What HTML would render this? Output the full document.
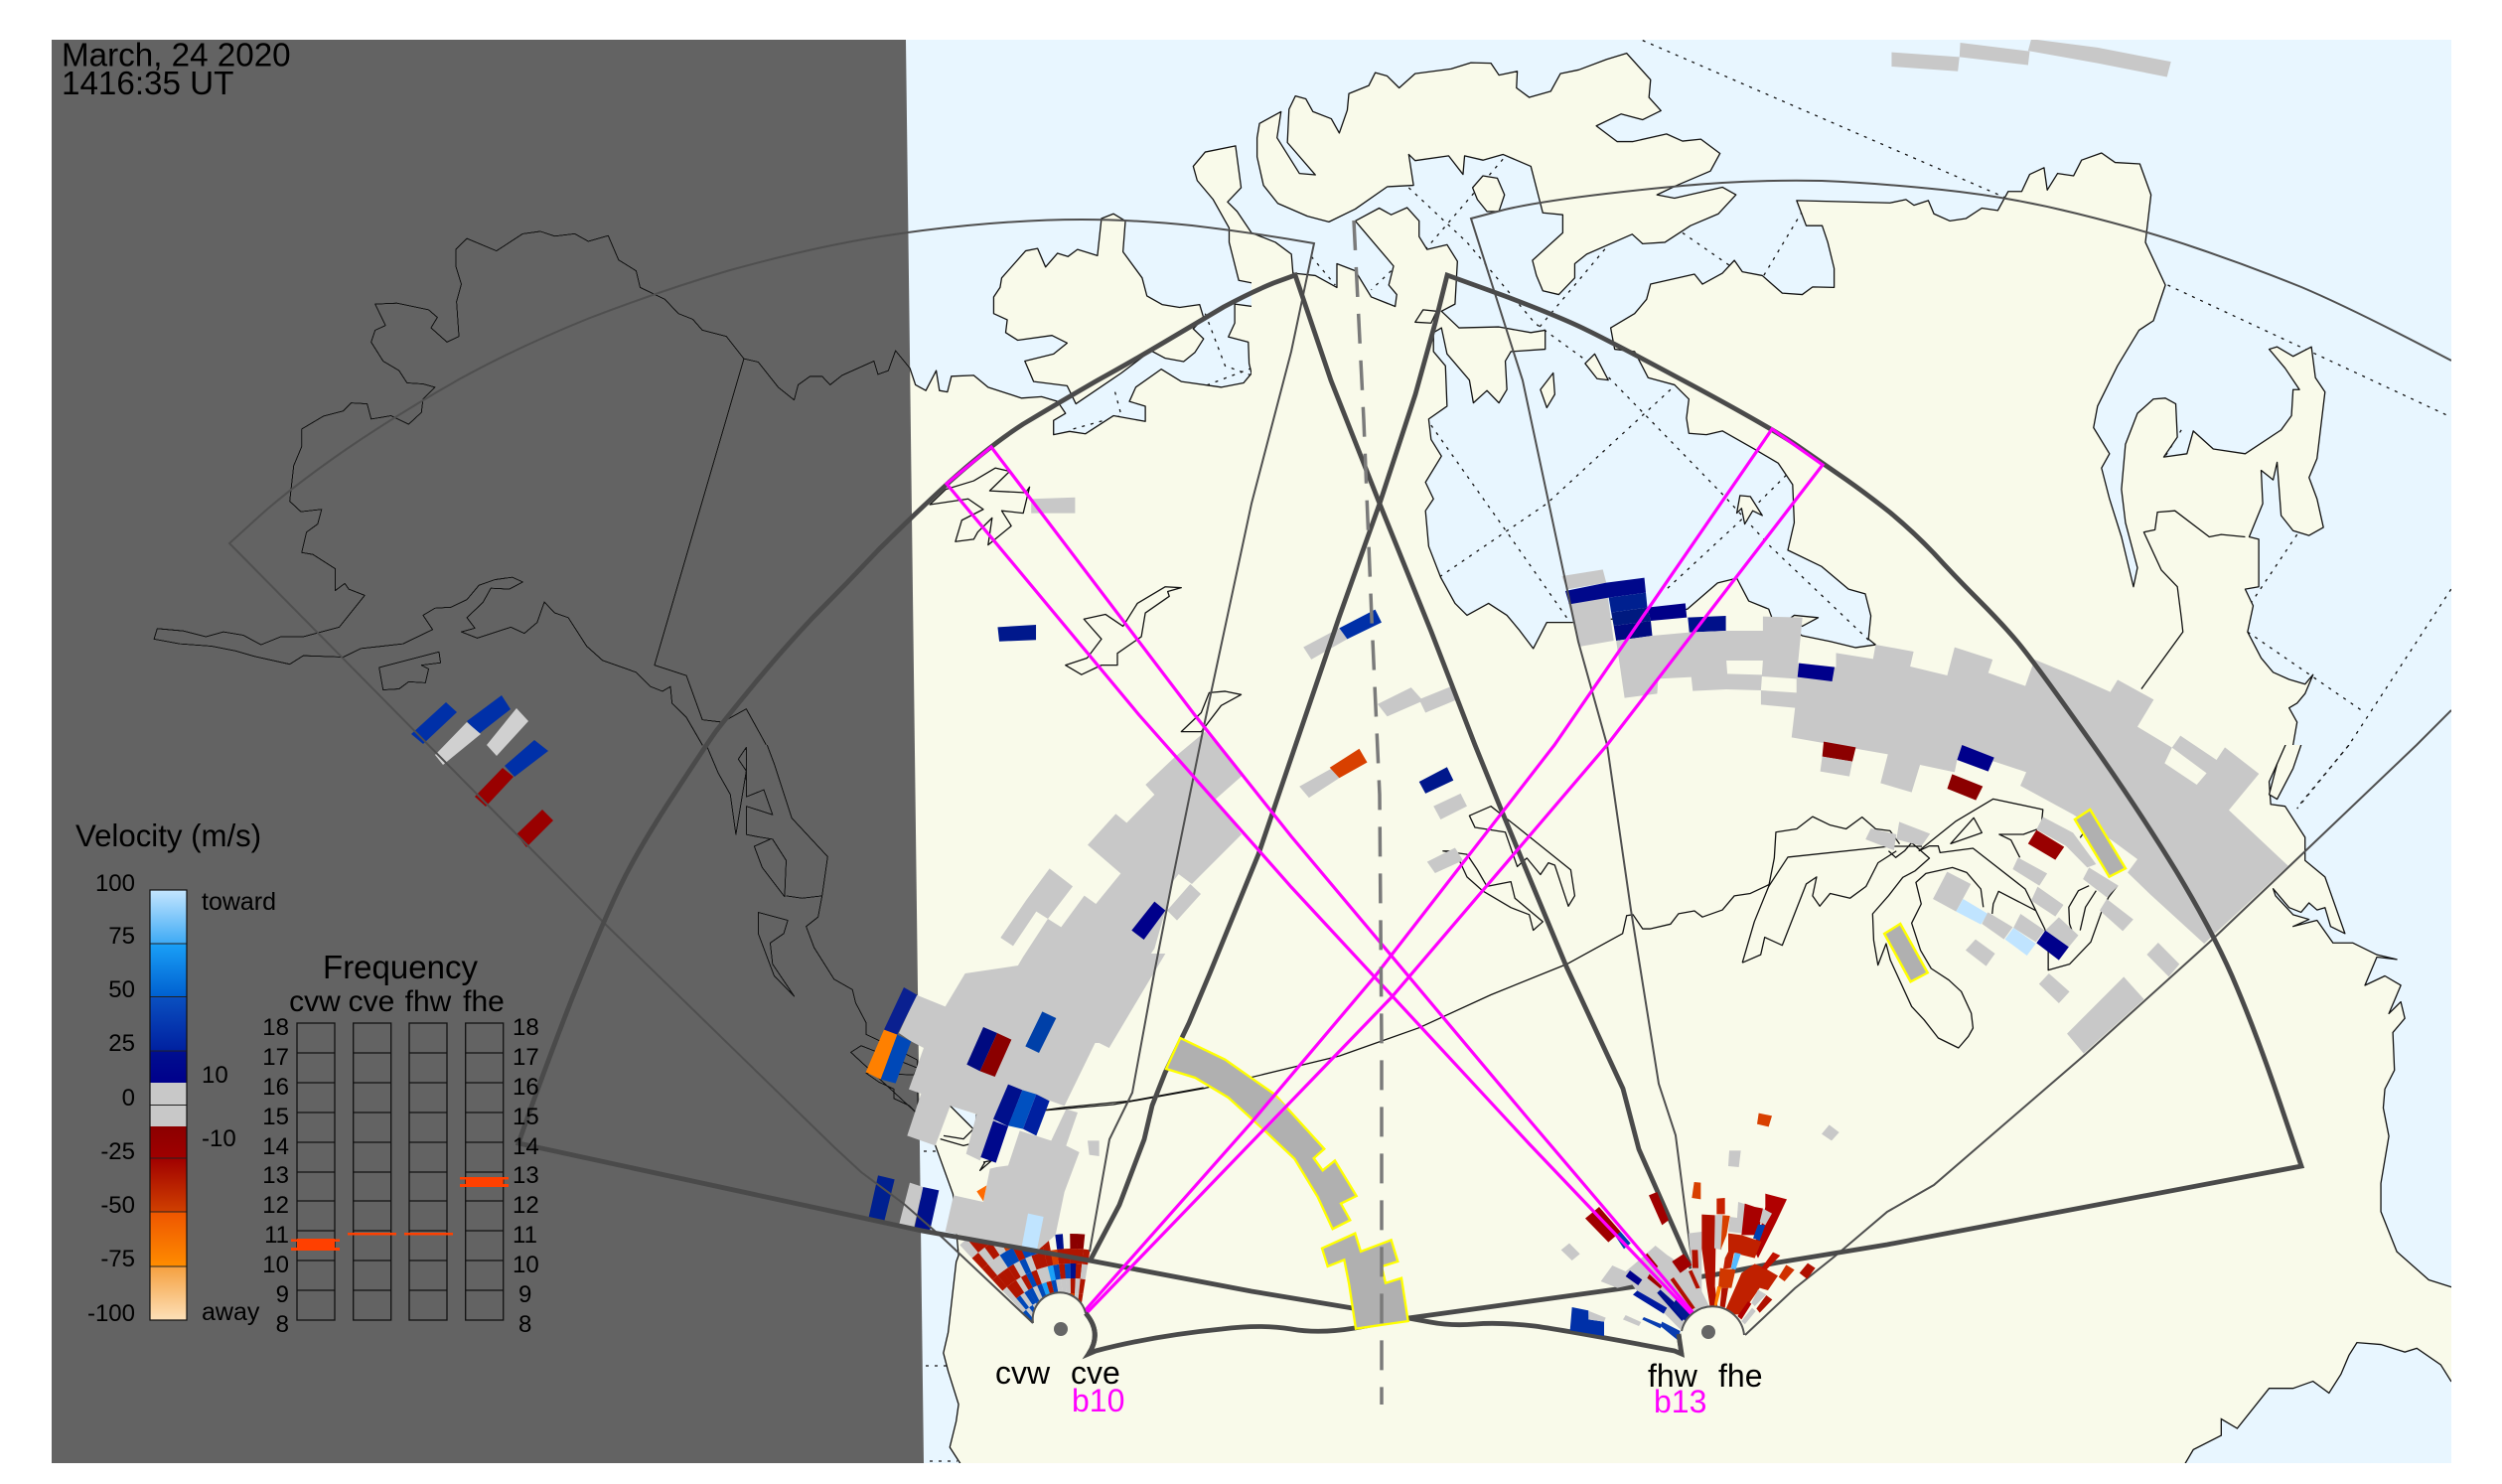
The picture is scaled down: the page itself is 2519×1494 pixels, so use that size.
<!DOCTYPE html>
<html>
<head>
<meta charset="utf-8">
<style>
html,body{margin:0;padding:0;background:#fff}
svg{display:block}
.l{fill:#f9faea;stroke:#111;stroke-width:1.3;vector-effect:non-scaling-stroke;stroke-linejoin:round}
.s{fill:none;stroke:#111;stroke-width:1.3;vector-effect:non-scaling-stroke;stroke-linejoin:round}
.d{fill:none;stroke:#111;stroke-width:1.3;stroke-dasharray:3 6;vector-effect:non-scaling-stroke}
.o{fill:#e8f6ff;stroke:#111;stroke-width:1.3;vector-effect:non-scaling-stroke}
.k{fill:none;stroke:#4a4a4a;stroke-width:4.8;stroke-linejoin:miter}
.t{fill:none;stroke:#4f4f4f;stroke-width:2}
.m{fill:none;stroke:#ff00ff;stroke-width:3.2}
.y{fill:#b0b0b0;stroke:#ffff00;stroke-width:7;stroke-linejoin:miter}
.g{fill:#c8c8c8}
.R{fill:#b01500}.D{fill:#8b0000}.B{fill:#0048b8}.N{fill:#00108c}.G{fill:#c8c8c8}.L{fill:#1aa0f7}.O{fill:#d84000}
text{font-family:"Liberation Sans",sans-serif;fill:#000}
.n{font-size:24px}
.f{font-size:30px}
</style>
</head>
<body>
<svg xmlns="http://www.w3.org/2000/svg" width="2519" height="1494" viewBox="0 0 2519 1494">
<defs>
<clipPath id="F"><rect x="52" y="40" width="2416" height="1433"/></clipPath>
<clipPath id="cq1"><rect x="52" y="40" width="1208.5" height="710.5"/></clipPath>
<clipPath id="cq2"><rect x="1260" y="40" width="1208" height="710.5"/></clipPath>
<clipPath id="cq3"><rect x="52" y="750" width="1208.5" height="723"/></clipPath>
<clipPath id="cq4"><rect x="1260" y="750" width="1208" height="723"/></clipPath>
<linearGradient id="c1" x1="0" y1="0" x2="0" y2="1"><stop offset="0" stop-color="#c4e6ff"/><stop offset="1" stop-color="#3eaaf5"/></linearGradient>
<linearGradient id="c2" x1="0" y1="0" x2="0" y2="1"><stop offset="0" stop-color="#1aa0f7"/><stop offset="1" stop-color="#0060d0"/></linearGradient>
<linearGradient id="c3" x1="0" y1="0" x2="0" y2="1"><stop offset="0" stop-color="#0a50c0"/><stop offset="1" stop-color="#0020a0"/></linearGradient>
<linearGradient id="c4" x1="0" y1="0" x2="0" y2="1"><stop offset="0" stop-color="#000f90"/><stop offset="1" stop-color="#00008b"/></linearGradient>
<linearGradient id="c5" x1="0" y1="0" x2="0" y2="1"><stop offset="0" stop-color="#8b0000"/><stop offset="1" stop-color="#a00000"/></linearGradient>
<linearGradient id="c6" x1="0" y1="0" x2="0" y2="1"><stop offset="0" stop-color="#a00000"/><stop offset="1" stop-color="#d04000"/></linearGradient>
<linearGradient id="c7" x1="0" y1="0" x2="0" y2="1"><stop offset="0" stop-color="#ee5500"/><stop offset="1" stop-color="#ff8c00"/></linearGradient>
<linearGradient id="c8" x1="0" y1="0" x2="0" y2="1"><stop offset="0" stop-color="#f5a040"/><stop offset="1" stop-color="#fde0b8"/></linearGradient>
<path id="a0" d="M-1.7-57H1.7L2.1-72H-2.1Z"/>
<path id="a1" d="M-2.1-72H2.1L2.55-87H-2.55Z"/>
<path id="a2" d="M-2.55-87H2.55L3-102H-3Z"/>
<path id="a3" d="M-3-102H3L3.4-117H-3.4Z"/>
<path id="a4" d="M-3.4-117H3.4L3.85-132H-3.85Z"/>
<path id="a5" d="M-3.85-132H3.85L4.3-147H-4.3Z"/>
<path id="a6" d="M-4.3-147H4.3L4.8-165H-4.8Z"/>
</defs>

<g clip-path="url(#F)">
<rect x="52" y="40" width="2416" height="1433" fill="#e8f6ff"/>

<!-- graticule over ocean -->
<g transform="translate(1260,0) scale(.80357,.47832)">
<polyline class="d" points="490,85 950,420"/>
<polyline class="d" points="1148,600 1503,878"/>
<polyline class="d" points="197,395 270,510 355,680 445,790 590,1040 650,1150 775,1350"/>
<polyline class="d" points="225,895 320,1120 395,1300"/>
<polyline class="d" points="525,820 370,1060 235,1215"/>
<polyline class="d" points="315,335 218,525"/>
<polyline class="d" points="450,510 360,690"/>
<polyline class="d" points="540,490 600,560"/>
<polyline class="d" points="690,445 640,585"/>
<polyline class="d" points="670,1000 610,1100 520,1240"/>
<polyline class="d" points="1165,905 1145,960"/>
<polyline class="d" points="1310,1125 1250,1275"/>
<polyline class="d" points="1503,1240 1375,1568 1310,1700"/>
<polyline class="d" points="1248,1330 1395,1500"/>
<polyline class="d" points="75,540 105,600"/>
<polyline class="d" points="175,570 150,610"/>
</g>
<g transform="scale(.80357,.47832)">
<polyline class="d" points="1510,660 1535,770 1568,790"/>
<polyline class="d" points="1568,775 1510,812"/>
<polyline class="d" points="1397,825 1405,875 1340,905"/>
</g>
<path d="M930,1159H942M932,1375H958M936,1471H964" class="d"/>

<!-- Q1 land -->
<g clip-path="url(#cq1)"><g transform="scale(.80357,.47832)">
<polygon class="l" points="193,1345 197,1323 230,1328 258,1340 280,1330 305,1337 327,1357 352,1340 380,1340 425,1320 457,1253 437,1240 432,1228 420,1243 420,1197 392,1167 378,1163 384,1120 398,1103 403,1072 377,1077 363,1055 368,980 378,940 378,903 405,876 430,865 440,848 460,850 465,882 490,875 512,893 528,868 530,840 545,815 530,808 510,806 500,780 480,760 465,720 470,695 483,685 470,640 497,638 537,652 548,668 540,690 560,720 575,708 572,635 578,598 571,560 571,525 585,502 622,528 655,492 677,487 695,497 720,492 737,508 762,496 775,547 797,570 802,605 833,630 850,660 868,672 880,695 910,708 932,755 950,762 975,815 995,842 1000,810 1015,792 1030,792 1040,810 1055,790 1095,760 1100,788 1113,780 1122,738 1140,775 1147,810 1160,822 1173,780 1177,822 1187,825 1192,792 1220,790 1238,815 1280,838 1305,835 1325,845 1335,870 1320,885 1320,915 1340,908 1360,913 1395,875 1435,887 1435,855 1415,845 1423,815 1455,777 1480,803 1530,815 1558,806 1568,786 1565,765 1564,720 1539,709 1547,680 1547,640 1600,652 1600,606 1552,590 1540,510 1540,480 1520,420 1500,380 1495,350 1510,320 1548,307 1555,395 1538,425 1550,445 1568,490 1600,500 1600,1600 882,1600 880,1568 860,1510 842,1480 840,1445 830,1455 815,1445 797,1415 755,1390 735,1360 712,1300 695,1290 682,1267 673,1310 657,1333 640,1320 598,1343 578,1330 595,1322 585,1300 605,1268 615,1238 638,1240 655,1225 642,1215 620,1220 600,1232 585,1262 565,1278 545,1280 530,1295 542,1325 505,1355 452,1365 430,1383 380,1380 363,1398 320,1382 295,1370 265,1360 225,1355"/>
<polygon class="l" points="1380,460 1395,450 1410,465 1407,530 1431,585 1437,623 1456,641 1478,647 1503,641 1508,669 1495,692 1508,713 1497,742 1483,761 1460,754 1442,738 1405,785 1348,850 1337,812 1295,803 1284,760 1320,745 1337,722 1318,706 1275,716 1260,700 1262,673 1245,660 1245,625 1253,605 1255,585 1285,528 1300,523 1310,562 1325,533 1338,540 1350,525 1375,538"/>
<polygon class="s" points="475,1405 550,1372 552,1395 528,1400 537,1408 533,1437 512,1435 500,1450 480,1452"/>
<polyline class="s" points="932,755 820,1400 860,1422 880,1515 905,1520 935,1492 960,1568"/>
<polygon class="s" points="1165,1062 1185,1030 1220,1012 1247,985 1265,992 1240,1033 1285,1037 1290,1025 1282,1080 1255,1075 1267,1107 1238,1147 1243,1090 1225,1120 1220,1135 1197,1140 1205,1095 1232,1072 1213,1050"/>
<polygon class="s" points="1335,1400 1362,1385 1380,1345 1358,1303 1385,1293 1407,1318 1425,1270 1460,1235 1480,1237 1463,1245 1465,1255 1435,1290 1430,1340 1400,1375 1400,1400 1380,1400 1355,1420"/>
<polygon class="s" points="1505,1500 1515,1458 1535,1455 1555,1462 1530,1485 1505,1540 1480,1540"/>
</g></g>

<!-- Q2 land -->
<g clip-path="url(#cq2)"><g transform="translate(1260,0) scale(.80357,.47832)">
<polygon class="l" points="-50,470 0,490 30,510 50,535 52,575 80,580 107,605 107,555 130,570 150,625 180,645 182,620 172,600 178,560 130,465 160,438 175,452 195,437 210,465 210,498 220,525 245,515 258,550 255,640 238,655 260,690 310,688 350,700 368,695 368,735 325,740 318,760 320,820 310,848 295,822 278,848 273,800 245,745 238,690 228,700 228,740 243,770 245,855 222,882 225,925 238,960 218,1015 228,1050 218,1075 222,1150 237,1215 255,1270 270,1295 297,1270 320,1295 335,1325 353,1365 370,1310 402,1310 500,1296 546,1282 584,1227 608,1217 623,1265 648,1282 652,1300 690,1338 725,1350 757,1363 782,1357 773,1345 776,1296 769,1250 748,1240 714,1192 672,1158 680,1100 678,1020 660,975 630,945 590,907 570,915 548,912 545,880 548,840 530,810 497,795 480,740 455,735 450,690 480,660 495,630 500,598 555,577 565,598 590,575 605,548 615,572 640,580 665,617 690,620 703,604 730,605 730,565 722,510 715,475 695,475 683,422 800,427 820,420 830,432 848,422 855,450 875,465 895,460 915,438 935,443 948,403 965,403 975,367 993,353 997,400 1010,365 1030,370 1040,337 1065,322 1082,342 1113,345 1127,410 1120,510 1145,600 1130,675 1112,695 1085,770 1060,855 1055,900 1075,955 1065,985 1075,1050 1090,1130 1105,1235 1110,1195 1095,1100 1090,1030 1095,935 1110,870 1130,840 1145,838 1158,850 1160,920 1143,962 1172,955 1180,907 1205,945 1245,955 1290,905 1303,875 1305,820 1313,820 1295,775 1275,735 1285,730 1305,750 1328,730 1333,795 1345,825 1335,965 1325,1005 1335,1050 1343,1110 1325,1127 1305,1117 1290,1085 1285,973 1280,1010 1265,990 1267,1060 1250,1130 1262,1135 1262,1235 1245,1240 1255,1275 1248,1330 1265,1385 1280,1415 1300,1430 1320,1440 1330,1420 1320,1460 1310,1480 1300,1490 1310,1520 1305,1568 1290,1600 -50,1600"/>
<polyline class="s" points="1245,1130 1215,1125 1200,1130 1157,1075 1135,1078 1132,1115 1118,1120 1140,1200 1160,1235 1165,1300 1167,1330 1115,1450"/>
<polygon class="l" points="10,260 37,235 32,290 60,365 80,368 45,300 47,230 55,202 68,208 77,235 100,250 110,280 120,232 122,197 147,180 155,153 170,160 185,185 205,155 250,145 275,132 300,133 310,158 333,150 332,185 348,205 375,192 387,155 410,147 445,125 470,112 500,168 498,205 513,233 490,252 463,240 432,265 458,298 478,298 520,282 540,297 563,293 587,323 575,360 533,390 508,410 530,417 590,394 607,410 585,450 550,475 518,510 490,513 477,493 420,535 405,555 405,585 385,620 365,612 357,580 352,548 390,490 390,452 365,448 350,350 315,325 290,337 267,328 265,367 247,328 205,338 197,325 203,390 170,393 130,440 97,467 70,455 33,428 15,390 7,330 7,290"/>
<polygon class="l" points="290,370 308,375 317,410 310,445 295,445 283,420 277,395"/>
<polygon class="l" points="430,745 447,800 433,797 418,765"/>
<polygon class="l" points="378,785 380,830 370,858 362,820"/>
<polygon class="l" points="205,678 215,652 232,655 225,680"/>
<polygon class="l" points="680,1295 710,1300 690,1318 672,1305"/>
<polygon class="l" points="612,1043 625,1045 640,1085 628,1075 618,1103 614,1070 608,1080"/>
</g></g>

<!-- Q3 land -->
<g clip-path="url(#cq3)"><g transform="translate(0,750) scale(.80357,.47449)">
<polygon class="l" points="960,-5 970,40 992,155 1037,237 1030,320 1025,365 1010,385 1020,430 1045,497 1068,519 1072,547 1085,589 1085,614 1105,630 1149,668 1150,790 1172,850 1194,953 1201,1083 1198,1097 1188,1246 1182,1290 1188,1329 1201,1399 1198,1435 1190,1490 1203,1524 1205,1600 1600,1600 1600,-5"/>
<polyline class="s" points="885,0 900,60 915,105 922,190 935,55 925,30 935,5 935,110 957,95 968,148 935,130 935,190 950,195 968,200 985,245 983,322 955,260 945,215 965,200"/>
<polygon class="s" points="950,355 987,372 982,400 965,420 968,465 995,533 970,490 950,400"/>
<polyline class="s" points="985,320 1005,325 1030,320"/>
<polygon class="s" points="1066,652 1079,638 1149,685 1145,700 1085,696 1101,715 1120,730 1120,750 1139,765 1149,782"/>
<polyline class="s" points="1310,775 1395,763 1510,728 1568,705"/>
</g></g>

<!-- Q4 land -->
<g clip-path="url(#cq4)"><g transform="translate(1260,750) scale(.80357,.47449)">
<polyline class="d" points="1375,0 1310,135"/>
<polygon class="l" points="-50,-50 1305,-50 1305,0 1285,40 1275,78 1277,126 1295,130 1320,196 1320,245 1345,280 1370,400 1352,385 1345,345 1335,350 1325,335 1315,355 1300,345 1280,305 1283,320 1305,360 1325,370 1305,385 1335,372 1355,420 1380,420 1410,445 1435,455 1410,450 1395,510 1420,490 1440,510 1425,570 1440,545 1445,580 1430,610 1432,690 1420,730 1418,770 1425,830 1415,930 1415,990 1435,1075 1475,1135 1503,1150 1600,1170 1600,1600 -50,1600"/>
<polygon class="l" points="1297,-6 1317,-10 1305,50 1285,115 1275,105 1285,40"/>
<polygon class="o" points="1170,1524 1180,1495 1215,1465 1215,1430 1235,1450 1275,1365 1305,1365 1330,1350 1350,1375 1365,1335 1375,1295 1385,1268 1415,1272 1445,1288 1460,1280 1490,1315 1503,1350 1600,1400 1600,1600 1170,1600"/>
<polyline class="s" points="0,705 110,660 210,600 300,530 395,465 465,400 470,362 478,360 490,390 500,390 525,380 535,358 555,352 565,365 590,350 605,320 625,315 650,295"/>
<polygon class="s" points="273,150 300,130 330,170 400,265 405,320 397,342 380,255 372,250 362,275 345,240 333,258 318,185 280,175"/>
<polygon class="s" points="240,225 270,232 283,265 295,300 325,290 330,325 365,375 353,393 348,360 325,345 290,310 270,280 255,225"/>
<polyline class="s" points="615,462 630,375 648,300 655,240 657,185 683,178 703,152 725,170 745,178 765,153 782,178 800,182 812,210"/>
<polyline class="s" points="648,300 672,238 800,215 840,215"/>
<polyline class="s" points="615,462 638,445 643,408 665,425 695,295 708,280 703,320 712,342 725,315 750,325 770,300 785,250 808,225"/>
</g></g>

<!-- pacific pocket -->
<polygon points="957,1113 983,1122 980,1137" fill="#e8f6ff"/>
<g transform="translate(840,980) scale(.33333)">
<polyline class="s" points="350,400 400,450 420,470 390,500 330,490"/>
<polyline class="s" points="320,500 390,520 430,510 425,470 430,425"/>
<polyline class="s" points="640,412 690,405 895,385 1115,345"/>
<polyline class="s" points="450,570 475,565 440,595 455,570"/>
</g>

<!-- Great lakes detail -->
<g transform="translate(1780,780) scale(.35714,.33333)">
<polyline class="s" points="340,230 360,250 385,230 405,205 455,252 415,290 380,310 340,365 295,420 298,500 310,575 333,510 345,560 405,700 440,740 480,795 537,825 565,790 578,765 573,720 545,655 510,620 460,585 430,530 405,448 432,390 417,325 445,298 520,280 560,295 600,345 607,400"/>
<polyline class="s" points="425,230 530,140 635,73 775,105 770,160 720,180 652,180 685,197 710,250"/>
<polygon class="s" points="515,208 580,130 603,175"/>
<polyline class="s" points="425,230 455,215 480,215 485,235 578,222 725,345 755,410 780,465 790,500 790,590 850,572 910,505 940,415 960,370 985,335"/>
<polyline class="s" points="632,420 635,390 650,352 755,410"/>
<polyline class="s" points="905,335 875,350 848,400 850,450 860,480"/>
<polyline class="s" points="880,470 895,400 925,350"/>
<polyline class="s" points="880,190 890,175"/>
<polyline class="s" points="935,125 945,130"/>
<polyline class="s" points="955,165 965,145"/>
</g>

<!-- night -->
<polygon points="52,40 912,40 930,1473 52,1473" fill="#636363" style="mix-blend-mode:darken"/>

<!-- scatter: top & middle -->
<g transform="translate(1260,0) scale(.80357,.47832)">
<polygon class="g" points="802,110 887,120 885,150 802,140"/>
<polygon class="g" points="888,90 975,108 973,137 887,120"/>
<polygon class="g" points="977,82 1060,100 1152,130 1147,162 1060,133 973,107"/>
<polygon class="g" points="65,1362 110,1322 120,1345 75,1388"/>
<polygon points="110,1322 155,1283 163,1310 120,1345" fill="#0030a8"/>
<polygon class="g" points="158,1482 200,1447 215,1475 170,1508"/>
<polygon class="g" points="210,1472 250,1445 258,1472 218,1500"/>
</g>
<g transform="scale(.80357,.47832)">
<polygon class="g" points="1292,1050 1347,1047 1347,1080 1292,1080"/>
<polygon points="1250,1320 1298,1315 1298,1347 1252,1350" fill="#00188c"/>
</g>
<g transform="translate(1260,750) scale(.80357,.47449)">
<polygon class="g" points="60,88 100,50 110,70 72,112"/>
<polygon points="98,48 135,8 145,37 110,70" fill="#d84000"/>
<polygon points="210,78 245,47 253,75 218,103" fill="#00188c"/>
<polygon class="g" points="228,130 262,103 270,130 237,158"/>
<polygon class="g" points="220,248 255,218 265,245 230,272"/>
</g>

<!-- alaska cells -->
<polygon points="414,739 449,707 460,717 426,749" fill="#0030a8"/>
<polygon points="470,726 505,700 514,714 482,739" fill="#0030a8"/>
<polygon points="438,760 470,727 484,739 446,770" fill="#d0d0d0"/>
<polygon points="490,750 520,713 532,726 500,761" fill="#d0d0d0"/>
<polygon points="508,771 538,745 552,756 518,782" fill="#0030a8"/>
<polygon points="478,802 506,773 517,782 489,812" fill="#990000"/>
<polygon points="520,840 546,815 557,826 530,853" fill="#990000"/>

<!-- right main arc -->
<g transform="translate(1560,570) scale(.49745,.33333)">
<polygon class="g" points="25,30 108,10 115,50 35,70"/>
<polygon class="g" points="38,110 118,90 130,225 60,243"/>
<polygon points="32,75 115,50 192,35 195,80 120,95 40,115" fill="#00088b"/>
<polygon points="120,95 195,80 198,125 125,140" fill="#002090"/>
<polygon points="125,140 198,125 205,165 130,180" fill="#001a80"/>
<polygon points="130,180 205,165 208,210 135,225" fill="#000a80"/>
<polygon points="198,125 275,112 278,155 205,165" fill="#000088"/>
<polygon points="280,155 357,150 357,195 283,200" fill="#00108a"/>
<path class="g" fill-rule="evenodd" d="M135,225 208,210 283,200 358,195 432,195 432,152 512,155 503,293 580,305 580,262 655,280 660,237 737,258 730,303 805,330 820,245 897,282 888,322 963,362 982,282 1060,330 1135,380 1150,343 1223,403 1190,485 1260,548 1277,512 1350,585 1367,547 1436,627 1375,737 1495,905 1325,1140 1215,990 1170,925 1190,885 1140,830 1060,750 953,663 965,622 900,590 825,585 820,622 750,600 733,683 670,655 685,568 490,517 497,428 428,418 428,375 358,372 290,377 287,335 220,340 218,385 152,398Z M358,285 432,285 430,328 360,325Z M430,333 500,340 500,382 428,375Z M1245,595 1260,548 1330,625 1310,660Z"/>
<polygon points="505,293 577,305 572,348 502,335" fill="#00008b"/>
<polygon points="555,530 620,547 613,590 552,575" fill="#8b0000"/>
<polygon class="g" points="552,575 613,590 607,635 548,620"/>
<polygon points="835,540 900,578 888,620 825,585" fill="#00008b"/>
<polygon points="815,628 877,665 863,707 805,672" fill="#8b0000"/>
</g>

<!-- lakes region cells -->
<g transform="translate(1780,780) scale(.35714,.33333)">
<polygon class="g" points="275,195 290,162 362,180 355,228"/>
<polygon class="g" points="370,142 457,178 433,215 362,195"/>
<polygon class="g" points="465,375 505,293 572,330 530,413"/>
<polygon points="530,413 550,375 620,420 600,452" fill="#c0e4ff"/>
<polygon class="g" points="603,450 620,415 690,460 665,497"/>
<polygon class="g" points="692,462 712,420 780,470 755,505"/>
<polygon points="668,497 692,462 755,510 730,546" fill="#c0e4ff"/>
<polygon class="g" points="782,470 820,430 875,485 848,520"/>
<polygon points="757,508 782,470 848,520 820,560" fill="#00008b"/>
<polygon class="g" points="742,380 760,338 833,393 810,428"/>
<polygon class="g" points="690,285 705,250 787,298 765,335"/>
<polygon points="733,208 757,167 835,218 810,257" fill="#990000"/>
<polygon class="g" points="757,165 775,127 860,175 925,270 900,280 840,215"/>
<polygon class="g" points="888,315 905,280 988,335 955,370"/>
<polygon class="g" points="935,410 955,375 1030,437 1000,472"/>
<polygon class="g" points="557,530 585,497 640,540 615,578"/>
<polygon class="g" points="764,632 792,600 850,655 820,690"/>
<polygon class="g" points="1068,543 1100,507 1160,572 1130,610"/>
<polygon class="g" points="843,782 1003,610 1060,678 890,842"/>
</g>

<!-- left radar upper cells -->
<g transform="translate(1000,720) scale(.33333)">
<polygon class="g" points="640,50 755,180 670,255 750,360 600,510 560,480 540,505 520,590 487,705 425,795 460,820 400,900 345,990 0,990 0,813 32,828 90,730 165,615 205,640 275,545 310,570 385,478 285,392 370,298 403,325 487,240 460,210 550,125"/>
<polygon class="g" points="170,463 240,517 165,615 130,593 60,697 22,672 100,558"/>
<polygon class="g" points="595,510 627,540 555,620 525,590"/>
<polygon points="487,563 520,590 455,678 418,650" fill="#00008b"/>
</g>

<!-- fan cvw/cve -->
<g transform="translate(1079,1374)">
<g transform="rotate(-41.4)"><use href="#a0" class="B"/><use href="#a1" class="G"/><use href="#a2" class="G"/><use href="#a3" class="R"/><use href="#a4" class="R"/><use href="#a5" class="R"/><use href="#a6" class="G"/></g>
<g transform="rotate(-38.1)"><use href="#a0" class="G"/><use href="#a1" class="B"/><use href="#a2" class="R"/><use href="#a3" class="R"/><use href="#a4" class="G"/><use href="#a5" class="G"/><use href="#a6" class="R"/></g>
<g transform="rotate(-34.9)"><use href="#a0" class="B"/><use href="#a1" class="G"/><use href="#a2" class="R"/><use href="#a3" class="R"/><use href="#a4" class="G"/><use href="#a5" class="R"/><use href="#a6" class="R"/></g>
<g transform="rotate(-31.6)"><use href="#a0" class="G"/><use href="#a1" class="B"/><use href="#a2" class="G"/><use href="#a3" class="R"/><use href="#a4" class="B"/><use href="#a5" class="G"/><use href="#a6" class="D"/></g>
<g transform="rotate(-28.4)"><use href="#a0" class="B"/><use href="#a1" class="B"/><use href="#a2" class="R"/><use href="#a3" class="G"/><use href="#a4" class="B"/><use href="#a5" class="O"/><use href="#a6" class="R"/></g>
<g transform="rotate(-25.1)"><use href="#a0" class="L"/><use href="#a1" class="G"/><use href="#a2" class="B"/><use href="#a3" class="B"/><use href="#a4" class="R"/><use href="#a5" class="B"/><use href="#a6" class="R"/></g>
<g transform="rotate(-21.9)"><use href="#a0" class="G"/><use href="#a1" class="B"/><use href="#a2" class="R"/><use href="#a3" class="G"/><use href="#a4" class="B"/><use href="#a5" class="B"/></g>
<g transform="rotate(-18.6)"><use href="#a0" class="B"/><use href="#a1" class="L"/><use href="#a2" class="G"/><use href="#a3" class="R"/><use href="#a4" class="B"/><use href="#a5" class="R"/></g>
<g transform="rotate(-15.4)"><use href="#a0" class="N"/><use href="#a1" class="R"/><use href="#a2" class="G"/><use href="#a3" class="R"/><use href="#a4" class="R"/><use href="#a5" class="O"/></g>
<g transform="rotate(-12.1)"><use href="#a0" class="G"/><use href="#a1" class="B"/><use href="#a2" class="L"/><use href="#a3" class="R"/><use href="#a4" class="R"/></g>
<g transform="rotate(-8.9)"><use href="#a0" class="G"/><use href="#a1" class="G"/><use href="#a2" class="B"/><use href="#a3" class="O"/></g>
<g transform="rotate(-5.6)"><use href="#a0" class="G"/><use href="#a1" class="G"/><use href="#a2" class="R"/><use href="#a3" class="R"/><use href="#a4" class="N"/></g>
<g transform="rotate(-2.4)"><use href="#a0" class="R"/><use href="#a1" class="G"/><use href="#a2" class="B"/><use href="#a3" class="R"/></g>
<g transform="rotate(.9)"><use href="#a0" class="O"/><use href="#a1" class="R"/><use href="#a2" class="N"/><use href="#a3" class="R"/><use href="#a4" class="D"/></g>
<g transform="rotate(4.1)"><use href="#a0" class="G"/><use href="#a1" class="G"/><use href="#a2" class="R"/><use href="#a3" class="R"/><use href="#a4" class="D"/></g>
<g transform="rotate(7.4)"><use href="#a0" class="R"/><use href="#a1" class="R"/><use href="#a2" class="G"/><use href="#a3" class="R"/></g>
</g>

<!-- left lower cells -->
<g transform="translate(840,980) scale(.33333)">
<polygon class="g" points="395,0 335,100 248,65 195,180 232,205 270,225 225,350 262,363 220,490 305,520 350,400 430,425 398,545 440,565 480,470 510,400 530,340 695,400 790,205 830,225 940,40 1000,-60 800,-60"/>
<polygon class="g" points="560,475 655,505 700,410 735,420 700,520 740,540 695,660 668,790 610,840 565,830 335,780 360,670 450,690 470,590 490,585 525,580"/>
<polygon class="g" points="765,505 800,505 800,552 770,548"/>
<polygon points="430,658 460,640 450,688" fill="#ff6a00"/>
<polygon points="210,42 250,65 190,185 150,170" fill="#0a2090"/>
<polygon points="150,170 190,185 140,320 95,298" fill="#ff8000"/>
<polygon points="190,185 232,205 185,332 140,320" fill="#0048b8"/>
<polygon points="450,162 492,180 440,295 400,275" fill="#000a80"/>
<polygon points="492,180 535,200 485,312 440,295" fill="#8b0000"/>
<polygon points="628,115 670,135 618,240 577,220" fill="#0040a8"/>
<polygon points="525,335 568,352 525,462 480,440" fill="#00108c"/>
<polygon points="568,352 610,365 570,470 525,460" fill="#0050c0"/>
<polygon points="610,365 650,385 610,490 570,470" fill="#0020a0"/>
<polygon points="480,445 525,462 488,572 442,555" fill="#00088c"/>
<polygon points="132,610 182,622 150,752 103,740" fill="#002090"/>
<polygon class="g" points="228,632 268,645 240,770 195,760"/>
<polygon points="268,645 316,655 288,780 242,770" fill="#00108c"/>
<polygon points="585,725 632,735 610,845 565,830" fill="#c0e4ff"/>
</g>

<!-- thin FOV -->
<path class="t" d="M1040,1332 950,1247 910,1212 867,1180 840,1155 607,928 231,547 264,517Q297,488 349,452Q402,416 462,382Q522,349 594,320Q667,292 735,272Q804,253 858,243Q912,233 974,227Q1037,221 1089,221Q1141,221 1200,227Q1260,234 1323,245L1300,354 1260,507 1211,736 1180,888 1162,980 1140,1100 1117,1147 1097,1260"/>
<path class="t" d="M1703,1267 1687,1143 1670,1091 1642,916 1618,750 1589,646 1533,383 1481,220 1515,211Q1549,203 1617,195Q1686,187 1734,184Q1782,181 1834,182Q1887,184 1955,191Q2023,198 2091,215Q2160,232 2212,250Q2265,268 2317,289Q2369,311 2468,363"/>
<polyline class="t" points="1757,1344 1807,1297 1847,1265 1900,1220 1947,1193 2100,1061 2224,949 2304,873 2433,750 2468,715"/>

<!-- thick FOV -->
<path class="k" d="M1097,1270 1127,1213 1152,1147 1160,1113 1173,1080 1197,1030 1218,980 1267,860 1300,763 1348,622 1389,507 1425,397 1445,325 1457,277 1515,298Q1573,320 1597,332Q1622,344 1702,387Q1782,430 1810,449Q1839,469 1859,483Q1879,497 1903,516Q1927,536 1947,557Q1967,579 1991,603Q2015,627 2031,646Q2047,665 2098,737Q2150,810 2191,877Q2232,945 2252,994Q2273,1044 2295,1109L2317,1174 1900,1253 1790,1271 1728,1283 1627,1298 1418,1327 1364,1337Q1328,1343 1300,1338Q1270,1333 1230,1338Q1160,1345 1103,1360L1096,1363Q1110,1342 1093,1322"/>
<path class="k" d="M1703,1277 1650,1157 1634,1096 1577,973 1513,819 1485,750 1441,636 1389,507 1340,383 1304,277 1282,285Q1260,294 1232,309Q1205,325 1173,344Q1141,363 1103,384Q1065,406 1030,427Q996,449 956,485Q917,521 884,554Q852,588 819,621Q787,655 759,689Q731,723 721,736Q711,750 677,802Q643,854 625,891Q607,928 576,1005Q546,1082 522,1151L928,1239 1097,1269 1260,1300 1362,1317 1418,1327 1440,1331Q1461,1335 1485,1333Q1509,1331 1545,1335Q1581,1340 1686,1360L1693,1363 1690,1343"/>

<!-- fhw/fhe cells -->
<g transform="translate(1540,1100) scale(.33333)">
<polygon class="g" points="480,425 520,420 520,600 545,650 490,660 455,715 420,680 400,660 340,620 310,580 265,590 215,570 250,522 290,540 320,515 380,462 415,490 430,500 460,525 490,540"/>
<polygon points="360,310 385,300 420,385 400,400" fill="#a00000"/>
<polygon points="168,380 210,345 275,420 238,452" fill="#a00000"/>
<polygon points="258,432 275,420 305,455 285,472" fill="#0040b0"/>
<polygon class="g" points="95,475 120,455 152,487 128,507"/>
<polygon class="g" points="282,685 290,672 337,693 330,705"/>
<polygon points="128,648 178,658 178,685 225,692 225,735 122,718" fill="#0030a8"/>
<polygon class="g" points="180,660 230,680 225,692 178,685"/>
<polygon points="290,555 303,537 340,565 328,582" fill="#00008b"/>
<polygon points="312,610 325,598 415,650 405,668" fill="#001aa0"/>
<polygon points="340,685 345,678 400,700 395,712" fill="#0a3db0"/>
<polygon points="395,705 400,692 455,720 448,748" fill="#0a3db0"/>
<polygon points="385,605 395,595 478,670 460,690" fill="#00108c"/>
<polygon points="430,645 445,620 490,670 470,690" fill="#001a90"/>
<polygon points="345,497 355,485 388,525 378,533" fill="#a00000"/>
<polygon points="355,560 362,548 400,585 395,592" fill="#a00000"/>
<polygon points="425,565 435,558 500,650 490,655" fill="#b01000"/>
<polygon points="430,510 465,487 490,520 455,545" fill="#a00000"/>
<polygon points="480,540 490,535 515,590 503,592" fill="#b01000"/>
<polygon points="490,475 508,475 510,530 492,530" fill="#b01000"/>
<polygon points="520,368 560,370 562,470 560,585 568,648 545,648 535,585 520,470" fill="#b00f00"/>
<polygon class="g" points="560,370 583,368 580,475 558,470"/>
<polygon points="565,320 590,318 590,367 565,367" fill="#c82000"/>
<polygon points="583,370 605,372 595,430 577,475" fill="#d84000"/>
<polygon class="g" points="605,375 640,380 640,425 600,420"/>
<polygon class="g" points="630,330 662,340 640,425 625,405"/>
<polygon points="650,335 680,345 705,350 690,430 640,430" fill="#a80000"/>
<polygon points="712,305 777,322 745,390 715,450 690,500 675,470 700,400 712,345" fill="#b00000"/>
<polygon class="g" points="705,350 732,365 712,400 695,390"/>
<polygon points="690,398 712,400 695,447 675,440" fill="#0040b0"/>
<polygon points="600,425 640,430 700,450 680,500 600,480" fill="#c02000"/>
<polygon points="600,480 618,482 608,530 585,532 590,500" fill="#c02000"/>
<polygon points="620,483 638,487 622,535 608,530" fill="#55bbff"/>
<polygon points="575,530 622,535 610,590 570,590" fill="#d03800"/>
<polygon points="567,585 580,587 565,645 557,645" fill="#ff8000"/>
<polygon points="580,590 600,590 590,650 575,645" fill="#b01000"/>
<polygon points="640,545 680,517 710,530 750,553 720,597 695,590 640,670 610,670 592,655 625,580" fill="#c02000"/>
<polygon points="735,482 757,492 715,535 700,530" fill="#c01000"/>
<polygon points="775,520 800,535 770,570 752,557" fill="#d03000"/>
<polygon points="840,515 863,530 838,563 815,545" fill="#b01000"/>
<polygon points="715,612 733,625 695,665 685,652" fill="#b00f00"/>
<polygon points="660,630 670,638 640,685 628,675" fill="#b00000"/>
<polygon class="g" points="672,650 683,660 650,700 640,690"/>
<polygon class="g" points="690,595 715,610 680,645 670,635"/>
<polygon points="497,270 517,272 517,322 490,318" fill="#d84000"/>
<polygon class="g" points="603,175 638,175 632,225 600,222"/>
<polygon points="692,62 732,70 722,103 687,95" fill="#d84000"/>
<polygon class="g" points="882,125 905,97 935,120 912,145"/>
</g>

<!-- yellow highlighted -->
<g transform="translate(1170,1040) scale(.33333)">
<polygon class="y" points="55,15 190,80 340,185 490,350 458,378 485,415 522,385 587,492 540,515 568,565 515,592 470,495 400,380 310,295 200,195 100,135 12,108"/>
<polygon class="y" points="483,650 583,605 600,660 692,625 712,690 663,705 675,755 723,740 743,870 585,893 565,760 550,685 500,705"/>
<polygon class="g" points="275,258 340,190 380,225 312,295"/>
</g>
<g transform="translate(1780,780) scale(.35714,.33333)">
<polygon class="y" points="865,135 908,105 1008,283 962,308" stroke-width="8"/>
<polygon class="y" points="328,480 373,450 450,598 402,625" stroke-width="8"/>
</g>

<!-- magenta beams -->
<polyline class="m" points="1705,1322 1540,1128 1300,842 1203,720 998,450 953,487 1147,720 1300,893 1540,1152 1703,1323"/>
<polyline class="m" points="1090,1322 1260,1130 1385,982 1565,750 1784,432 1835,468 1618,750 1401,1004 1260,1150 1093,1323"/>

<!-- dashed centre line -->
<polyline points="1363,222 1373,423 1381,622 1389,800 1391,1052 1391,1414" fill="none" stroke="#7a7a7a" stroke-width="3.5" stroke-dasharray="30 17"/>

<!-- radar holes -->
<path d="M1040,1332A27,27 0 0 1 1093,1322A28,28 0 0 1 1094,1350L1040,1360Z" fill="#f9faea"/>
<path d="M1040,1332A27,27 0 0 1 1093,1322" fill="none" stroke="#555" stroke-width="2"/>
<path d="M1693,1340A32,32 0 0 1 1756,1344L1756,1362 1693,1362Z" fill="#f9faea"/>
<path d="M1693,1340A32,32 0 0 1 1756,1344" fill="none" stroke="#555" stroke-width="2"/>
<path class="k" d="M1093,1322Q1110,1342 1096,1363"/>
<polyline class="k" points="1690,1343 1693,1363"/>
<circle cx="1068" cy="1338" r="7" fill="#666"/>
<circle cx="1720" cy="1341" r="7" fill="#666"/>
</g>

<!-- date -->
<text x="62" y="66.5" style="font-size:33.2px">March, 24 2020</text>
<text x="62" y="95" style="font-size:33.2px">1416:35 UT</text>

<!-- velocity legend -->
<text x="76" y="852" style="font-size:31.2px">Velocity (m/s)</text>
<rect x="151" y="896" width="37" height="54" fill="url(#c1)"/>
<rect x="151" y="950" width="37" height="53.5" fill="url(#c2)"/>
<rect x="151" y="1003.5" width="37" height="54.5" fill="url(#c3)"/>
<rect x="151" y="1058" width="37" height="32" fill="url(#c4)"/>
<rect x="151" y="1090" width="37" height="44" fill="#c8c8c8"/>
<rect x="151" y="1134" width="37" height="32" fill="url(#c5)"/>
<rect x="151" y="1166" width="37" height="54" fill="url(#c6)"/>
<rect x="151" y="1220" width="37" height="55" fill="url(#c7)"/>
<rect x="151" y="1275" width="37" height="54" fill="url(#c8)"/>
<path d="M151,950H188M151,1003.5H188M151,1058H188M151,1112.5H188M151,1166H188M151,1220H188M151,1275H188" stroke="#222" stroke-width="1"/>
<rect x="151" y="896" width="37" height="433" fill="none" stroke="#111" stroke-width="1.2"/>
<g class="n" text-anchor="end">
<text x="136" y="897">100</text><text x="136" y="950">75</text><text x="136" y="1004">50</text><text x="136" y="1058">25</text><text x="136" y="1113">0</text><text x="136" y="1167">-25</text><text x="136" y="1221">-50</text><text x="136" y="1275">-75</text><text x="136" y="1330">-100</text>
</g>
<g style="font-size:25px">
<text x="203" y="916">toward</text><text x="203" y="1329">away</text>
</g>
<g class="n"><text x="203" y="1090">10</text><text x="203" y="1154">-10</text></g>

<!-- frequency -->
<text x="403" y="985" text-anchor="middle" style="font-size:33px">Frequency</text>
<g class="f" text-anchor="middle">
<text x="317" y="1018">cvw</text><text x="374" y="1018">cve</text><text x="431" y="1018">fhw</text><text x="487" y="1018">fhe</text>
</g>
<g fill="none" stroke="#111" stroke-width="1.3">
<rect x="299" y="1030" width="38" height="299"/><rect x="355.7" y="1030" width="38" height="299"/><rect x="412" y="1030" width="38" height="299"/><rect x="468.7" y="1030" width="38" height="299"/>
<path d="M299,1060H337M299,1090H337M299,1120H337M299,1150H337M299,1180H337M299,1209H337M299,1239H337M299,1269H337M299,1299H337"/>
<path d="M355.7,1060H393.7M355.7,1090H393.7M355.7,1120H393.7M355.7,1150H393.7M355.7,1180H393.7M355.7,1209H393.7M355.7,1239H393.7M355.7,1269H393.7M355.7,1299H393.7"/>
<path d="M412,1060H450M412,1090H450M412,1120H450M412,1150H450M412,1180H450M412,1209H450M412,1239H450M412,1269H450M412,1299H450"/>
<path d="M468.7,1060H506.7M468.7,1090H506.7M468.7,1120H506.7M468.7,1150H506.7M468.7,1180H506.7M468.7,1209H506.7M468.7,1239H506.7M468.7,1269H506.7M468.7,1299H506.7"/>
</g>
<g fill="#ff4000">
<rect x="299" y="1247" width="38" height="12"/><rect x="293" y="1247.5" width="49" height="2.5"/><rect x="293" y="1256" width="49" height="3"/>
<rect x="350" y="1241" width="49" height="2.5"/><rect x="407" y="1241" width="49" height="2.5"/>
<rect x="468.7" y="1185" width="38" height="10"/><rect x="463" y="1185" width="49" height="2.5"/><rect x="463" y="1192" width="49" height="3"/>
</g>
<g class="n" text-anchor="end">
<text x="291" y="1042">18</text><text x="291" y="1072">17</text><text x="291" y="1102">16</text><text x="291" y="1132">15</text><text x="291" y="1162">14</text><text x="291" y="1191">13</text><text x="291" y="1221">12</text><text x="291" y="1251">11</text><text x="291" y="1281">10</text><text x="291" y="1311">9</text><text x="291" y="1341">8</text>
</g>
<g class="n">
<text x="516" y="1042">18</text><text x="516" y="1072">17</text><text x="516" y="1102">16</text><text x="516" y="1132">15</text><text x="516" y="1162">14</text><text x="516" y="1191">13</text><text x="516" y="1221">12</text><text x="516" y="1251">11</text><text x="516" y="1281">10</text><text x="522" y="1311">9</text><text x="522" y="1341">8</text>
</g>

<!-- station labels -->
<g style="font-size:32px">
<text x="1002" y="1393">cvw</text><text x="1078" y="1393">cve</text>
<text x="1079" y="1421" style="fill:#ff00ff">b10</text>
<text x="1659" y="1396">fhw</text><text x="1730" y="1396">fhe</text>
<text x="1665" y="1422" style="fill:#ff00ff">b13</text>
</g>
</svg>
</body>
</html>
